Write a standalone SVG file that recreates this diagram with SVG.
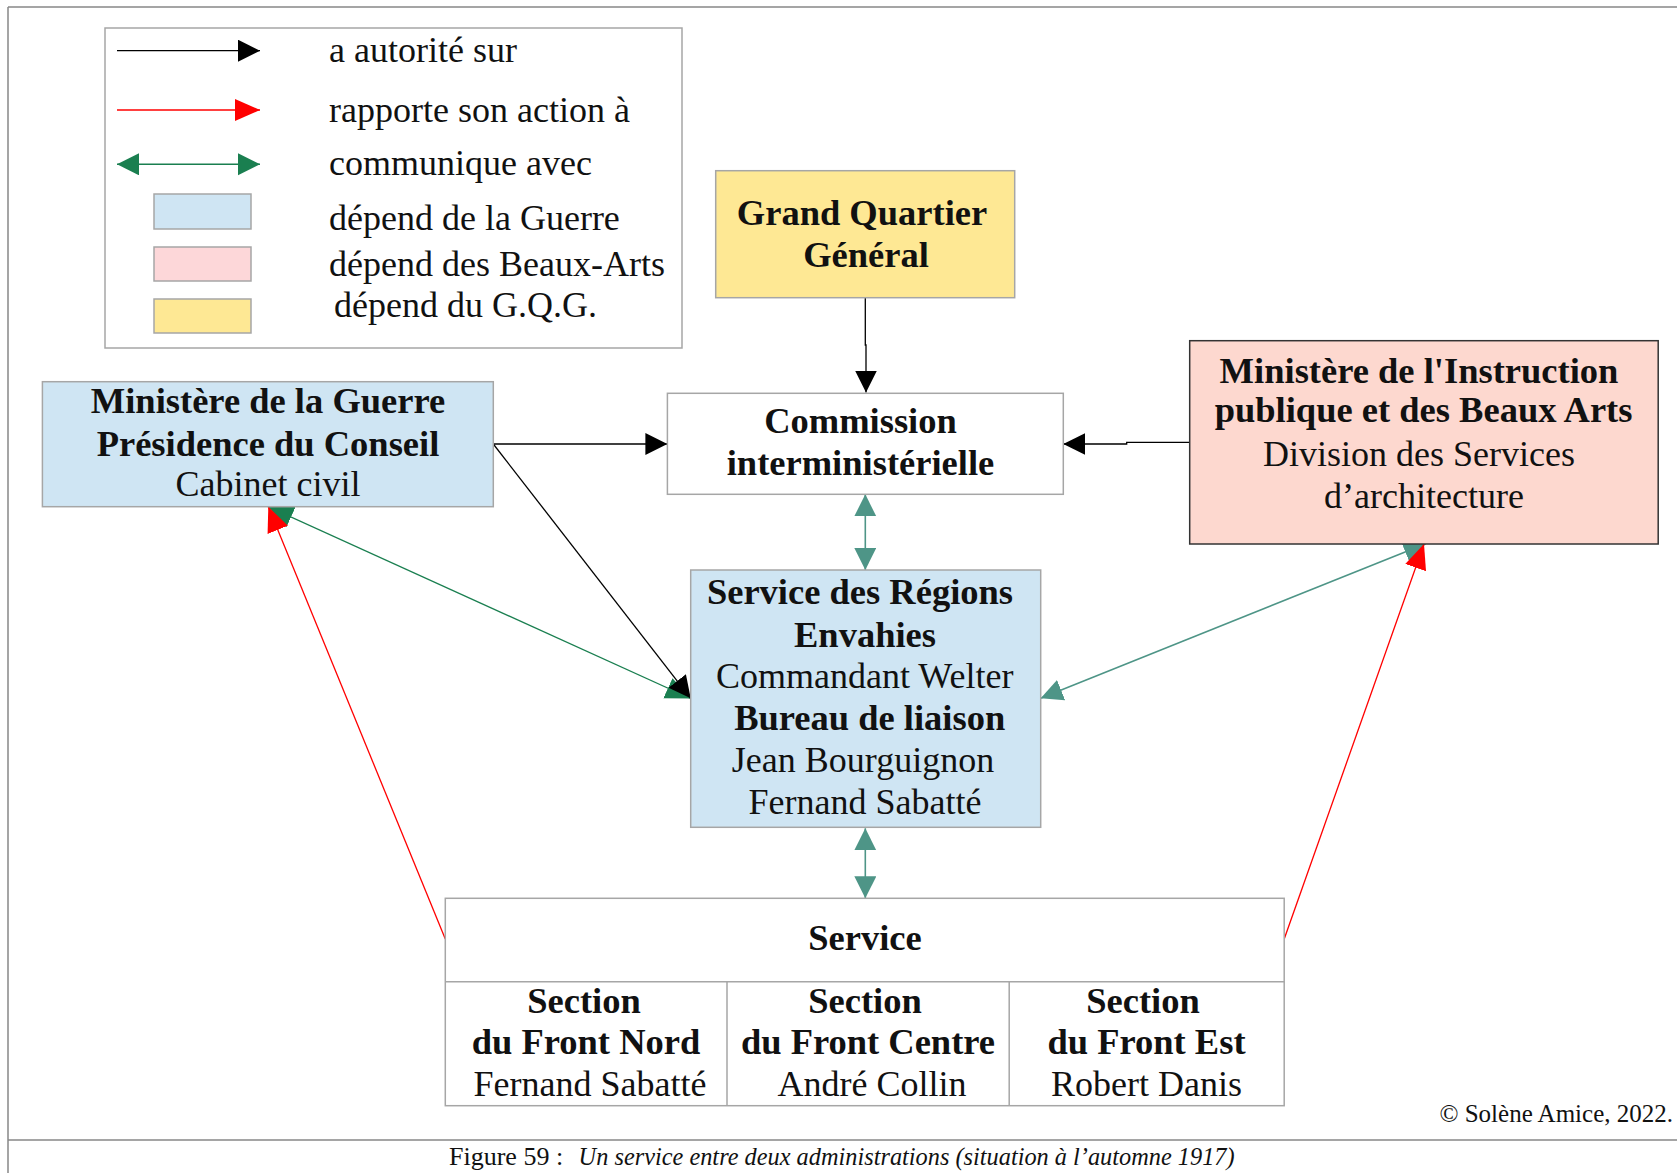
<svg xmlns="http://www.w3.org/2000/svg" width="1677" height="1173" viewBox="0 0 1677 1173">
<style>
text{font-family:"Liberation Serif","Times New Roman",serif;fill:#111}
.r{font-size:36px}
.b{font-size:36.5px;font-weight:bold}
.m{text-anchor:middle}
.box{stroke:#a6a6a6;stroke-width:1.5}
.blk{stroke:#000;stroke-width:1.3;fill:none}
.red{stroke:#ff0000;stroke-width:1.3;fill:none}
.grn{stroke:#1a7f50;stroke-width:1.3;fill:none}
.tel{stroke:#4e9587;stroke-width:1.6;fill:none}
</style>
<defs>
<marker id="hk" markerUnits="userSpaceOnUse" markerWidth="23" markerHeight="23" refX="22" refY="11" orient="auto-start-reverse"><path d="M0,0 L22,11 L0,22 z" fill="#000"/></marker>
<marker id="hr" markerUnits="userSpaceOnUse" markerWidth="26" markerHeight="23" refX="25" refY="11" orient="auto-start-reverse"><path d="M0,0 L25,11 L0,22 z" fill="#ff0000"/></marker>
<marker id="hg" markerUnits="userSpaceOnUse" markerWidth="26" markerHeight="23" refX="25" refY="11" orient="auto-start-reverse"><path d="M0,0 L25,11 L0,22 z" fill="#1a7f50"/></marker>
<marker id="hgl" markerUnits="userSpaceOnUse" markerWidth="23" markerHeight="23" refX="22" refY="11" orient="auto-start-reverse"><path d="M0,0 L22,11 L0,22 z" fill="#1a7f50"/></marker>
<marker id="ht" markerUnits="userSpaceOnUse" markerWidth="26" markerHeight="23" refX="22" refY="11" orient="auto-start-reverse"><path d="M0,0 L22,11 L0,22 z" fill="#4e9587"/></marker>
</defs>
<rect width="1677" height="1173" fill="#fff"/>
<g id="frame" stroke="#888" stroke-width="1.5" fill="none">
<path d="M8,7 H1677 M8,7 V1173 M8,1140 H1677"/>
</g>
<g id="legend">
<rect x="105" y="28" width="577" height="320" fill="#fff" stroke="#a6a6a6" stroke-width="1.5"/>
<line x1="117" y1="50.7" x2="260" y2="50.7" class="blk" marker-end="url(#hk)"/>
<line x1="117" y1="110" x2="260" y2="110" class="red" marker-end="url(#hr)"/>
<line x1="117" y1="164.3" x2="260" y2="164.3" class="grn" marker-start="url(#hgl)" marker-end="url(#hgl)" style="stroke-width:1.6"/>
<rect x="154" y="194" width="97" height="35" fill="#cfe5f3" class="box"/>
<rect x="154" y="247" width="97" height="34" fill="#fdd7d9" class="box"/>
<rect x="154" y="299" width="97" height="34" fill="#fee894" class="box"/>
<text class="r" x="329" y="62">a autorité sur</text>
<text class="r" x="329" y="122">rapporte son action à</text>
<text class="r" x="329" y="175">communique avec</text>
<text class="r" x="329" y="230">dépend de la Guerre</text>
<text class="r" x="329" y="276">dépend des Beaux-Arts</text>
<text class="r" x="334" y="317">dépend du G.Q.G.</text>
</g>
<g id="connectors">
<line x1="690.7" y1="698.5" x2="268.3" y2="506.7" class="grn" marker-start="url(#hg)" marker-end="url(#hg)"/>
<line x1="1040.7" y1="698.3" x2="1425.7" y2="543.7" class="tel" marker-start="url(#ht)" marker-end="url(#ht)"/>
<line x1="865.3" y1="494.3" x2="865.3" y2="570" class="tel" marker-start="url(#ht)" marker-end="url(#ht)"/>
<line x1="865.3" y1="828.3" x2="865.3" y2="898.3" class="tel" marker-start="url(#ht)" marker-end="url(#ht)"/>
<line x1="445.3" y1="939" x2="268.3" y2="506.7" class="red" marker-end="url(#hr)"/>
<line x1="1284.2" y1="939" x2="1424" y2="544" class="red" marker-end="url(#hr)"/>
<line x1="493.3" y1="444" x2="667.4" y2="444" class="blk" marker-end="url(#hk)"/>
<line x1="493.3" y1="444" x2="690.7" y2="698.3" class="blk" marker-end="url(#hk)"/>
<path d="M865.3,297.7 V345 H866 V392.5" class="blk" marker-end="url(#hk)"/>
<path d="M1189.7,442.3 H1126.7 V444 H1063.3" class="blk" marker-end="url(#hk)"/>
</g>
<g id="gqg">
<rect x="715.7" y="170.7" width="299" height="127" fill="#fee894" class="box"/>
<text class="b m" x="862" y="225">Grand Quartier</text>
<text class="b m" x="866" y="266.7">Général</text>
</g>
<g id="commission">
<rect x="667.4" y="393.3" width="395.9" height="101" fill="#fff" class="box"/>
<text class="b m" x="860.5" y="433.3">Commission</text>
<text class="b m" x="860.5" y="475">interministérielle</text>
</g>
<g id="guerre">
<rect x="42.4" y="381.7" width="450.9" height="125" fill="#cfe5f3" class="box"/>
<text class="b m" x="268" y="412.7">Ministère de la Guerre</text>
<text class="b m" x="268" y="455.7">Présidence du Conseil</text>
<text class="r m" x="268" y="496">Cabinet civil</text>
</g>
<g id="beauxarts">
<rect x="1189.7" y="340.7" width="468.5" height="203.3" fill="#fdd8cf" stroke="#333" stroke-width="1.5"/>
<text class="b m" x="1419" y="382.7">Ministère de l'Instruction</text>
<text class="b m" x="1423.6" y="421.7">publique et des Beaux Arts</text>
<text class="r m" x="1419" y="466">Division des Services</text>
<text class="r m" x="1424" y="507.7">d’architecture</text>
</g>
<g id="sre">
<rect x="690.7" y="570" width="350" height="257.3" fill="#cfe5f3" class="box"/>
<text class="b m" x="860" y="604">Service des Régions</text>
<text class="b m" x="865" y="646.7">Envahies</text>
<text class="r m" x="864.7" y="688.3">Commandant Welter</text>
<text class="b m" x="869.7" y="730">Bureau de liaison</text>
<text class="r m" x="863" y="771.7">Jean Bourguignon</text>
<text class="r m" x="865" y="814">Fernand Sabatté</text>
</g>
<g id="service">
<rect x="445.3" y="898.3" width="838.9" height="207.4" fill="#fff" class="box"/>
<path d="M445.3,981.7 H1284.2 M727,981.7 V1105.7 M1009.2,981.7 V1105.7" stroke="#a6a6a6" stroke-width="1.5"/>
<text class="b m" x="865" y="950">Service</text>
<text class="b m" x="584" y="1012.7">Section</text>
<text class="b m" x="586" y="1054">du Front Nord</text>
<text class="r m" x="590" y="1096">Fernand Sabatté</text>
<text class="b m" x="865" y="1012.7">Section</text>
<text class="b m" x="868" y="1054">du Front Centre</text>
<text class="r m" x="872" y="1096">André Collin</text>
<text class="b m" x="1143" y="1012.7">Section</text>
<text class="b m" x="1146.5" y="1054">du Front Est</text>
<text class="r m" x="1146.5" y="1096">Robert Danis</text>
</g>
<text x="1673" y="1121.7" style="font-size:25px;text-anchor:end">© Solène Amice, 2022.</text>
<text x="449" y="1165" style="font-size:26px">Figure 59 :</text>
<text x="578.6" y="1165" style="font-size:26px;font-style:italic" textLength="656" lengthAdjust="spacingAndGlyphs">Un service entre deux administrations (situation à l’automne 1917)</text>
</svg>
